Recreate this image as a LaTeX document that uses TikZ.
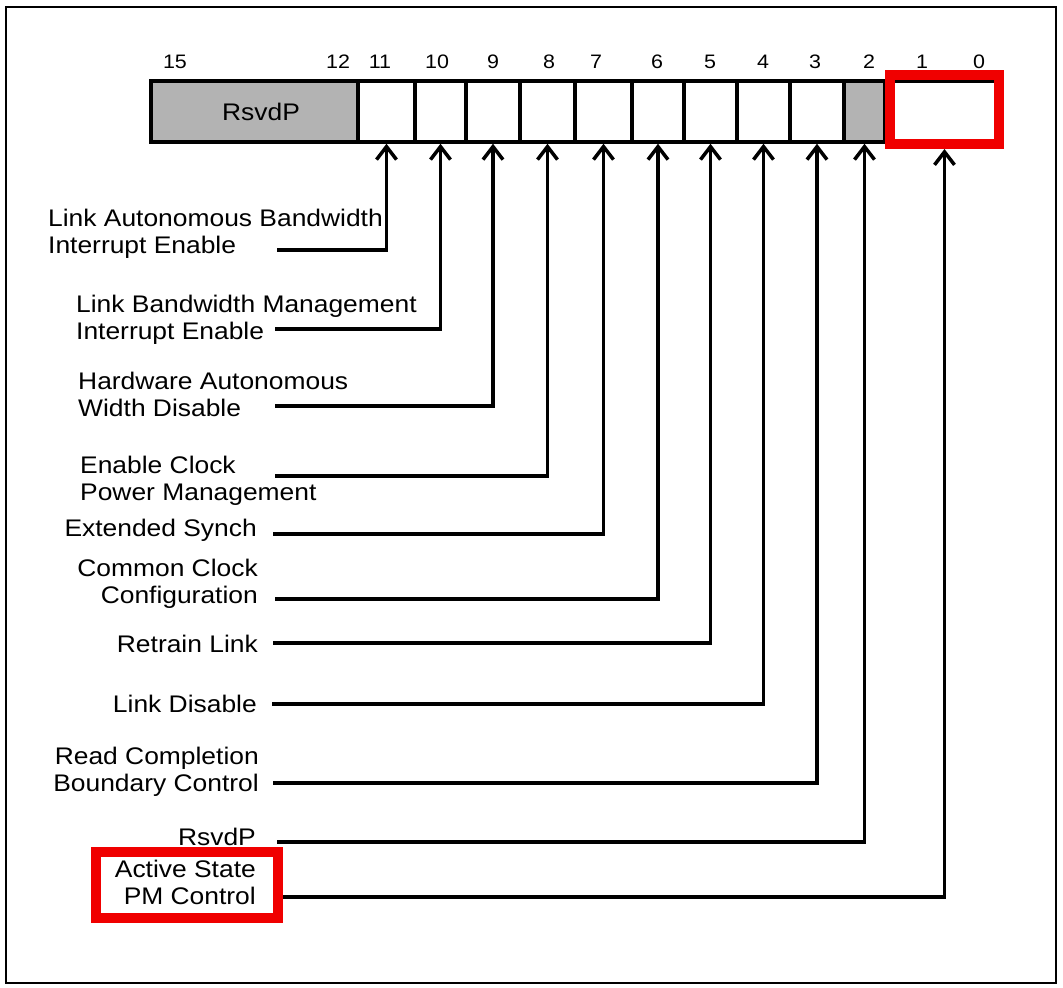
\documentclass[tikz,border=0pt]{standalone}
\usepackage{fontspec}
\usetikzlibrary{arrows.meta}
\newfontfamily\labfont{Liberation Sans}[FakeStretch=1.1]
\definecolor{rsvgray}{RGB}{179,179,179}
\definecolor{hlred}{RGB}{240,0,0}
\begin{document}
\begin{tikzpicture}[x=1pt,y=-1pt,
  cell/.style={draw=black,line width=3.5pt,minimum height=61,inner sep=0pt,anchor=center,font=\labfont\fontsize{24}{27}\selectfont},
  rsv/.style={cell,fill=rsvgray},
  bitnum/.style={anchor=base,inner sep=0pt,font=\labfont\fontsize{19.5}{22}\selectfont},
  lab/.style={inner sep=0pt,font=\labfont\fontsize{24}{26.5}\selectfont},
  labl/.style={lab,align=left,anchor=base west},
  labr/.style={lab,align=right,anchor=base east},
  redbox/.style={draw=hlred,line width=10pt,inner sep=0pt,anchor=center},
  conn/.style={draw=black,line width=3.5pt,-{Straight Barb[length=13pt,width=20pt]}},
  frame/.style={draw=black,line width=1.5pt}]
\useasboundingbox (0,0) rectangle (1063,988);
\draw[frame] (6,7) rectangle (1056,983);
% register cells
\node[rsv,minimum width=207] (b15) at (254.5,111.5) {\hspace*{13pt}RsvdP};
\node[cell,minimum width=57] (b11) at (386.5,111.5) {};
\node[cell,minimum width=51] (b10) at (440.5,111.5) {};
\node[cell,minimum width=54] (b9) at (493,111.5) {};
\node[cell,minimum width=55] (b8) at (547.5,111.5) {};
\node[cell,minimum width=57] (b7) at (603.5,111.5) {};
\node[cell,minimum width=52] (b6) at (658,111.5) {};
\node[cell,minimum width=53] (b5) at (710.5,111.5) {};
\node[cell,minimum width=53] (b4) at (763.5,111.5) {};
\node[cell,minimum width=54] (b3) at (817,111.5) {};
\node[rsv,minimum width=41] (b2) at (864.5,111.5) {};
\node[cell,minimum width=114] (b0) at (942,111.5) {};
% bit numbers
\node[bitnum] (n15) at (175,68) {15};
\node[bitnum] (n12) at (338,68) {12};
\node[bitnum] (n11) at (380,68) {11};
\node[bitnum] (n10) at (437,68) {10};
\node[bitnum] (n9) at (493,68) {9};
\node[bitnum] (n8) at (549,68) {8};
\node[bitnum] (n7) at (596,68) {7};
\node[bitnum] (n6) at (657,68) {6};
\node[bitnum] (n5) at (710,68) {5};
\node[bitnum] (n4) at (763,68) {4};
\node[bitnum] (n3) at (815,68) {3};
\node[bitnum] (n2) at (869,68) {2};
\node[bitnum] (n1) at (922,68) {1};
\node[bitnum] (n0) at (979,68) {0};
% highlight on bits 1:0
\node[redbox,minimum width=109,minimum height=69] (hl0) at (944.5,109.5) {};
% labels (base anchor = baseline of last line)
\node[labl] (l11) at (48,253) {Link Autonomous Bandwidth\\Interrupt Enable};
\node[labl] (l10) at (76,339) {Link Bandwidth Management\\Interrupt Enable};
\node[labl] (l9) at (78,416) {Hardware Autonomous\\Width Disable};
\node[labl] (l8) at (80,500) {Enable Clock\\Power Management};
\node[labr] (l7) at (257,536) {Extended Synch};
\node[labr] (l6) at (258,603) {Common Clock\\Configuration};
\node[labr] (l5) at (258,652) {Retrain Link};
\node[labr] (l4) at (257,712) {Link Disable};
\node[labr] (l3) at (259,791) {Read Completion\\Boundary Control};
\node[labr] (l2) at (256,845) {RsvdP};
\node[redbox,minimum width=182,minimum height=66,fill=white] (hlA) at (187,885) {};
\node[labr] (l0) at (256,904) {Active State\\PM Control};
% connector start points
\coordinate (s11) at (277,250);
\coordinate (s10) at (275,329);
\coordinate (s9) at (275,406);
\coordinate (s8) at (275,476);
\coordinate (s7) at (273,534);
\coordinate (s6) at (275,599);
\coordinate (s5) at (273,643);
\coordinate (s4) at (272,704);
\coordinate (s3) at (273,783);
\coordinate (s2) at (277,842);
\coordinate (s0) at (283,897);
% connectors
\draw[conn] (s11) -| (b11.south);
\draw[conn] (s10) -| (b10.south);
\draw[conn] (s9) -| (b9.south);
\draw[conn] (s8) -| (b8.south);
\draw[conn] (s7) -| (b7.south);
\draw[conn] (s6) -| (b6.south);
\draw[conn] (s5) -| (b5.south);
\draw[conn] (s4) -| (b4.south);
\draw[conn] (s3) -| (b3.south);
\draw[conn] (s2) -| (b2.south);
\draw[conn] (s0) -| (hl0.south);
\end{tikzpicture}
\end{document}
